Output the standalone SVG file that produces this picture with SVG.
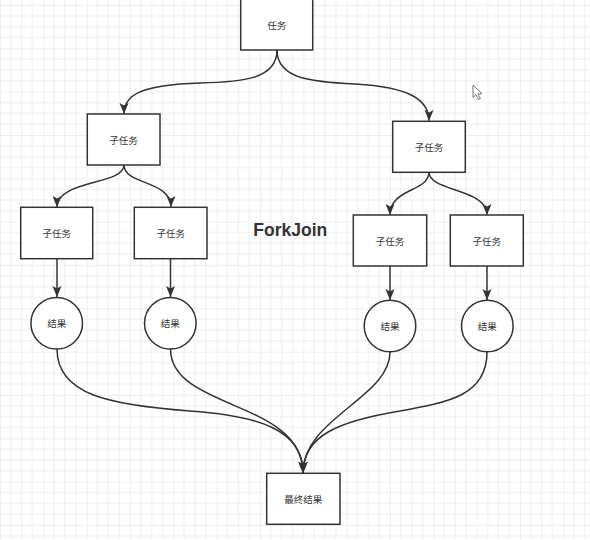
<svg xmlns="http://www.w3.org/2000/svg" width="590" height="540" viewBox="0 0 590 540">
<defs>
<pattern id="grid" x="0" y="5" width="43.333" height="43.333" patternUnits="userSpaceOnUse">
<path d="M10.833,0V43.333M21.667,0V43.333M32.5,0V43.333M0,10.833H43.333M0,21.667H43.333M0,32.5H43.333" stroke="#eeeeee" stroke-width="1" fill="none"/>
<path d="M0,0V43.333M0,0H43.333" stroke="#e0e0e0" stroke-width="1" fill="none"/>
</pattern>
<marker id="arr" markerUnits="userSpaceOnUse" markerWidth="12" markerHeight="10" viewBox="0 0 12 10" refX="11" refY="4.5" orient="auto">
<path d="M0,0 L11,4.5 L0,9 L2.5,4.5 Z" fill="#333333"/>
</marker>
<style>
.box{fill:#ffffff;stroke:#333333;stroke-width:1.5}
.lbl{font-family:"Noto Sans CJK SC","Liberation Sans",sans-serif;font-size:9.5px;fill:#333333;text-anchor:middle;dominant-baseline:central}
.edge{fill:none;stroke:#333333;stroke-width:1.5;marker-end:url(#arr)}
</style>
</defs>
<rect width="590" height="540" fill="#ffffff"/>
<rect width="590" height="540" fill="url(#grid)"/>

<g id="connectors">
<path class="edge" d="M277,50 C277,80 240,82 200,83 C140,85 124,95 124,114"/>
<path class="edge" d="M277,50 C277,80 315,82 355,84 C410,87 429,100 429,121"/>
<path class="edge" d="M124,165 C124,185 57,180 57,207"/>
<path class="edge" d="M124,165 C124,185 171,180 171,207"/>
<path class="edge" d="M429,172 C429,192 390,188 390,215"/>
<path class="edge" d="M429,172 C429,192 487,188 487,215"/>
<path class="edge" d="M57,259 L57,297"/>
<path class="edge" d="M170.5,259 L170.5,297"/>
<path class="edge" d="M390,266 L390,300"/>
<path class="edge" d="M487,266 L487,300"/>
<path class="edge" d="M57,349 C57,395 110,405 190,411 C260,416 303,430 303,473"/>
<path class="edge" d="M170.5,349 C170.5,410 303,400 303,473"/>
<path class="edge" d="M390,352 C390,398 303,418 303,473"/>
<path class="edge" d="M487,352 C487,395 450,402 400,411 C340,421 303,435 303,473"/>
</g>

<g id="task">
<rect class="box" x="240.7" y="-2" width="72" height="52"/>
<text class="lbl" x="276.7" y="25">任务</text>
</g>
<g id="subtask-left">
<rect class="box" x="87.3" y="114" width="72.7" height="51"/>
<text class="lbl" x="123.6" y="139.5">子任务</text>
</g>
<g id="subtask-right">
<rect class="box" x="392.7" y="121.3" width="72.6" height="51"/>
<text class="lbl" x="429" y="146.8">子任务</text>
</g>
<g id="subtask-ll">
<rect class="box" x="20.7" y="207.3" width="72" height="51.4"/>
<text class="lbl" x="56.7" y="233">子任务</text>
</g>
<g id="subtask-lr">
<rect class="box" x="134.3" y="207.3" width="72.7" height="51.4"/>
<text class="lbl" x="170.7" y="233">子任务</text>
</g>
<g id="subtask-rl">
<rect class="box" x="353.3" y="215" width="73.4" height="51"/>
<text class="lbl" x="390" y="240.5">子任务</text>
</g>
<g id="subtask-rr">
<rect class="box" x="450.3" y="215" width="73" height="51"/>
<text class="lbl" x="486.8" y="240.5">子任务</text>
</g>
<g id="result-ll">
<circle class="box" cx="56.7" cy="323.3" r="25.8"/>
<text class="lbl" x="56.7" y="323.3">结果</text>
</g>
<g id="result-lr">
<circle class="box" cx="170.3" cy="323.3" r="25.8"/>
<text class="lbl" x="170.3" y="323.3">结果</text>
</g>
<g id="result-rl">
<circle class="box" cx="390" cy="326" r="25.8"/>
<text class="lbl" x="390" y="326">结果</text>
</g>
<g id="result-rr">
<circle class="box" cx="487.3" cy="326" r="25.8"/>
<text class="lbl" x="487.3" y="326">结果</text>
</g>
<g id="final">
<rect class="box" x="266.7" y="473.3" width="73.3" height="51"/>
<text class="lbl" x="303.3" y="499">最终结果</text>
</g>

<text x="253.3" y="235.7" font-family="'Liberation Sans',Arial,sans-serif" font-weight="bold" font-size="17.5" fill="#333333">ForkJoin</text>

<path d="M473,85 L473,97.5 L476,94.6 L478.3,99.5 L480.3,98.6 L478,93.8 L482,93.8 Z" fill="#ffffff" stroke="#555555" stroke-width="0.8" stroke-linejoin="round"/>
</svg>
